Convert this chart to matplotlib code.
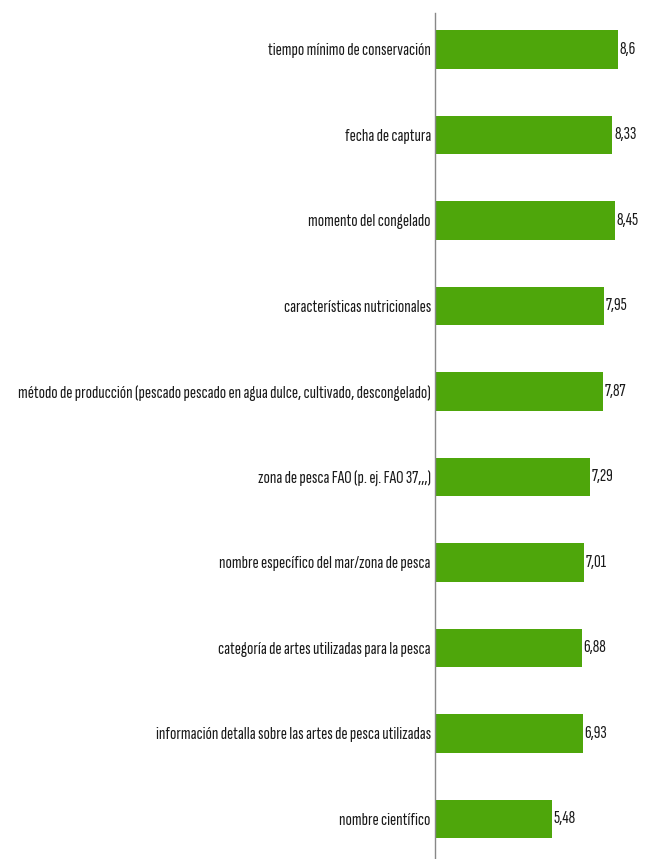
import matplotlib
matplotlib.use("Agg")
import matplotlib.pyplot as plt

categories = [
    "tiempo mínimo de conservación",
    "fecha de captura",
    "momento del congelado",
    "características nutricionales",
    "método de producción (pescado pescado en agua dulce, cultivado, descongelado)",
    "zona de pesca FAO (p. ej. FAO 37,,,)",
    "nombre específico del mar/zona de pesca",
    "categoría de artes utilizadas para la pesca",
    "información detalla sobre las artes de pesca utilizadas",
    "nombre científico",
]
values = [8.6, 8.33, 8.45, 7.95, 7.87, 7.29, 7.01, 6.88, 6.93, 5.48]
value_labels = ["8,6", "8,33", "8,45", "7,95", "7,87", "7,29", "7,01", "6,88", "6,93", "5,48"]

plt.rcParams["font.family"] = ["Sofia Sans Extra Condensed", "DejaVu Sans"]

W, H = 651, 859
fig = plt.figure(figsize=(W / 100, H / 100), dpi=100)

# size the label font so the longest label spans the same width as the reference
renderer = fig.canvas.get_renderer()
probe = fig.text(0, 0, max(categories, key=len), fontsize=10)
w = probe.get_window_extent(renderer).width
probe.remove()
fs = 10 * 409 / w

ax = fig.add_axes([435 / W, -2.75 / H, 213 / W, 855 / H])

y = list(range(len(categories)))
ax.barh(y, values, height=0.456, color="#4ea60b")
ax.set_ylim(len(categories) - 0.5, -0.5)
ax.set_xlim(0, 10)
ax.set_yticks(y)
ax.set_yticklabels(categories, fontsize=fs, color="#1a1a1a")
ax.tick_params(axis="y", length=0, pad=3)
ax.set_xticks([])
for s in ["top", "right", "bottom"]:
    ax.spines[s].set_visible(False)
ax.spines["left"].set_color("#888888")
ax.spines["left"].set_linewidth(1)
ax.spines["left"].set_bounds(-0.43, 9.55)

for yi, v, lab in zip(y, values, value_labels):
    ax.text(v + 0.08, yi, lab, va="center", ha="left", fontsize=fs, color="#1a1a1a")

fig.savefig("out.png", dpi=100)
